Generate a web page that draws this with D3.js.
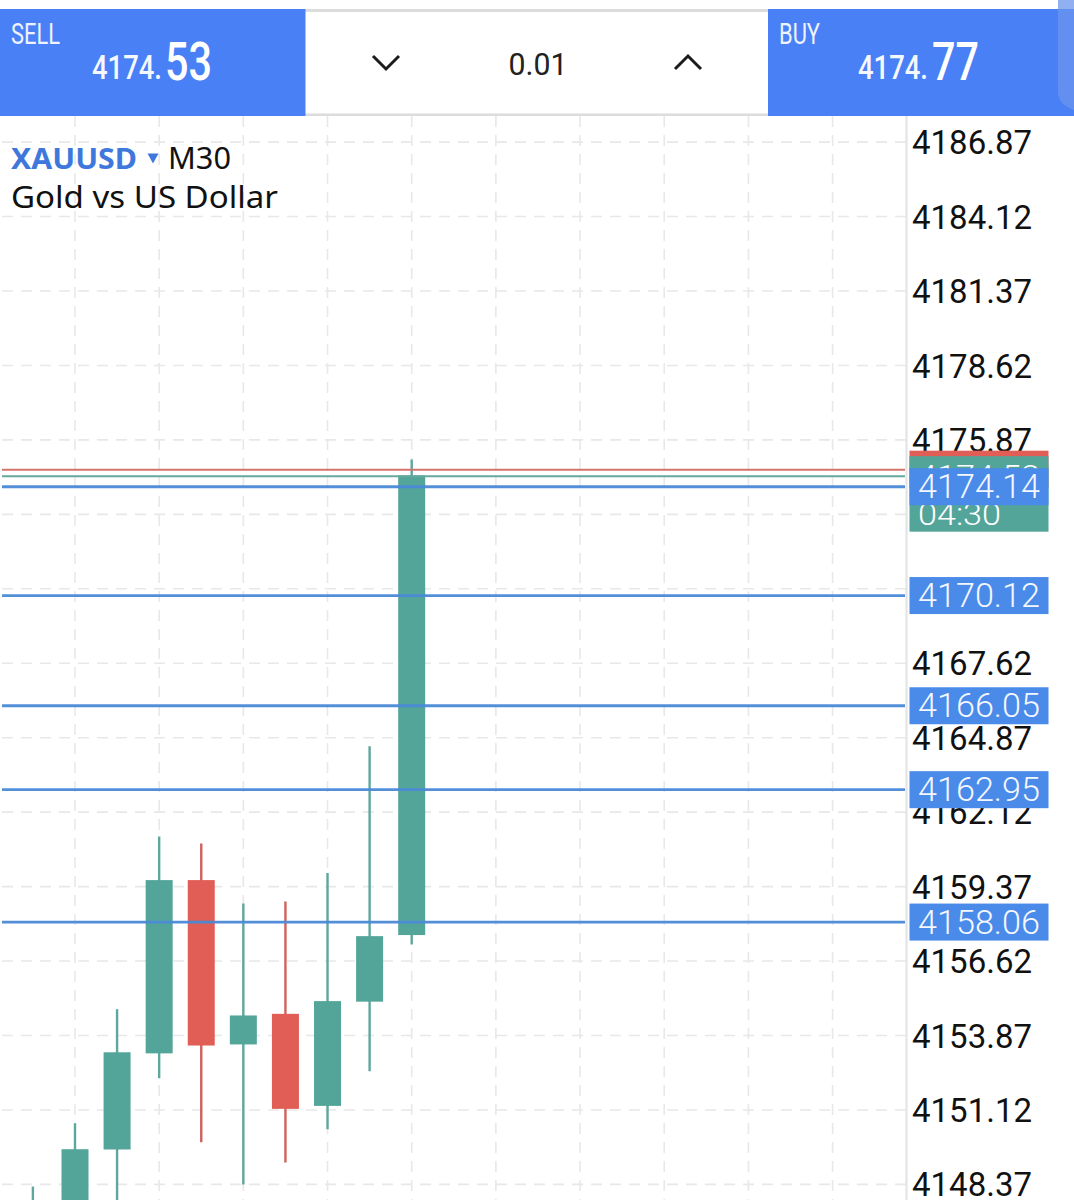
<!DOCTYPE html>
<html>
<head>
<meta charset="utf-8">
<script src="https://cdn.jsdelivr.net/npm/d3@7"></script>
<style>
  html, body { margin: 0; padding: 0; background: #fff; }
  svg { display: block; }
  text { font-family: Roboto, sans-serif; }
</style>
</head>
<body>
<div id="chart"></div>
<script>
// Candles, oldest first. The first ones run off the bottom edge
var candleIdx = [0, 1, 2, 3, 4, 5, 6, 7, 8, 9];
var opens  = [4146.9, 4146.5, 4149.66, 4153.21, 4159.61, 4153.54, 4154.67, 4151.27, 4155.12, 4157.58];
var closes = [4147.6, 4149.67, 4153.25, 4159.61, 4153.50, 4154.61, 4151.16, 4155.14, 4157.54, 4174.56];
var highs  = [4148.29, 4150.63, 4154.84, 4161.22, 4160.96, 4158.75, 4158.82, 4159.87, 4164.55, 4175.15];
var lows   = [4145.9, 4145.5, 4147.0, 4152.29, 4149.93, 4148.37, 4149.18, 4150.41, 4152.55, 4157.23];

// Price axis
var priceTicks = [4186.87, 4184.12, 4181.37, 4178.62, 4175.87, 4173.12, 4170.37, 4167.62, 4164.87, 4162.12, 4159.37, 4156.62, 4153.87, 4151.12, 4148.37];
var hiddenTicks = [4173.12, 4170.37];  // covered by the level boxes
var gridIdx = [1, 3, 5, 7, 9, 11, 13, 15, 17, 19];

// Horizontal levels
var levels = [4174.14, 4170.12, 4166.05, 4162.95, 4158.06];
var askPrice = 4174.77;
var bidPrice = 4174.53;
var countdown = "04:30";

var width = 1074, height = 1200;
var blue = "#4a80f5", levelBoxBlue = "#4a8ae8", levelBlue = "#4a8ad8", up = "#53a59a", down = "#e05e55";

var svg = d3.select("#chart").append("svg").attr("width", width).attr("height", height);

var y = d3.scaleLinear().domain([4148.37, 4186.87]).range([1184.4, 142.1]);
var x = d3.scaleLinear().domain([0, 9]).range([32.9, 411.7]);

// grid
svg.selectAll("line.hgrid").data(priceTicks).enter().append("line")
  .attr("class", "hgrid")
  .attr("x1", 2).attr("x2", 912)
  .attr("y1", d => y(d)).attr("y2", d => y(d))
  .attr("stroke", "#e8e8e8").attr("stroke-width", 1.6).attr("stroke-dasharray", "11 8");

svg.selectAll("line.vgrid").data(gridIdx).enter().append("line")
  .attr("class", "vgrid")
  .attr("x1", d => x(d)).attr("x2", d => x(d))
  .attr("y1", 116).attr("y2", height)
  .attr("stroke", "#e8e8e8").attr("stroke-width", 1.6).attr("stroke-dasharray", "11 8");

// axis border
svg.append("line").attr("x1", 906.5).attr("x2", 906.5).attr("y1", 116).attr("y2", height)
  .attr("stroke", "#e4e4e4").attr("stroke-width", 2.2);

// price tick labels
var axis = d3.axisRight(y)
  .tickValues(priceTicks.filter(d => !hiddenTicks.includes(d)))
  .tickSize(0).tickPadding(0)
  .tickFormat(d3.format(".2f"));
var axisG = svg.append("g").attr("transform", "translate(912,0)").call(axis);
axisG.select(".domain").remove();
axisG.selectAll("text")
  .attr("fill", "#111")
  .style("font-size", "33px")
  .style("font-family", "Roboto, sans-serif")
  .attr("dy", "0.35em");

// candles
var candles = candleIdx.map((d, i) => ({ i: d, o: opens[i], c: closes[i], h: highs[i], l: lows[i] }));

svg.selectAll("line.wick").data(candles).enter().append("line")
  .attr("class", "wick")
  .attr("x1", d => x(d.i)).attr("x2", d => x(d.i))
  .attr("y1", d => y(d.h)).attr("y2", d => y(d.l))
  .attr("stroke", d => d.c >= d.o ? "#5fa69c" : "#cf625b")
  .attr("stroke-width", 2.4);

svg.selectAll("rect.body").data(candles).enter().append("rect")
  .attr("class", "body")
  .attr("x", d => x(d.i) - 13.5).attr("width", 27)
  .attr("y", d => y(Math.max(d.o, d.c)))
  .attr("height", d => Math.abs(y(d.o) - y(d.c)))
  .attr("fill", d => d.c >= d.o ? up : down);

// bid / ask lines
svg.append("line").attr("x1", 2).attr("x2", 905).attr("y1", y(askPrice)).attr("y2", y(askPrice))
  .attr("stroke", "#d4736d").attr("stroke-width", 1.9);
svg.append("line").attr("x1", 2).attr("x2", 905).attr("y1", y(bidPrice)).attr("y2", y(bidPrice))
  .attr("stroke", "#64a89e").attr("stroke-width", 2);

// level lines
svg.selectAll("line.level").data(levels).enter().append("line")
  .attr("class", "level")
  .attr("x1", 2).attr("x2", 905)
  .attr("y1", d => y(d)).attr("y2", d => y(d))
  .attr("stroke", levelBlue).attr("stroke-width", 2.8).attr("opacity", 0.95);

// right side price boxes, stacked like the terminal draws them
var boxX = 909.5, boxW = 139;
svg.append("rect").attr("x", boxX).attr("y", y(askPrice) - 19).attr("width", boxW).attr("height", 37).attr("fill", down);
svg.append("rect").attr("x", boxX).attr("y", y(bidPrice) - 20).attr("width", boxW).attr("height", 75.5).attr("fill", up);
svg.append("text").attr("x", 918).attr("y", y(bidPrice) + 11)
  .attr("fill", "#fff").style("font-size", "31px").style("font-weight", 300)
  .attr("textLength", 122).attr("lengthAdjust", "spacingAndGlyphs").text(d3.format(".2f")(bidPrice));
svg.append("text").attr("x", 918).attr("y", y(bidPrice) + 49)
  .attr("fill", "#fff").style("font-size", "31px").style("font-weight", 300)
  .attr("textLength", 83).attr("lengthAdjust", "spacingAndGlyphs").text(countdown);

svg.selectAll("rect.levelBox").data(levels).enter().append("rect")
  .attr("class", "levelBox")
  .attr("x", boxX).attr("width", boxW)
  .attr("y", d => y(d) - 18.5).attr("height", 37)
  .attr("fill", levelBoxBlue);
svg.selectAll("text.levelText").data(levels).enter().append("text")
  .attr("class", "levelText")
  .attr("x", 918).attr("y", d => y(d) + 11.5)
  .attr("fill", "#f4f7ff").style("font-size", "33px").style("font-weight", 300)
  .attr("textLength", 122).attr("lengthAdjust", "spacingAndGlyphs")
  .text(d => d3.format(".2f")(d));

// symbol caption
var sans = "'Noto Sans', 'Open Sans', sans-serif";
svg.append("text").attr("x", 11).attr("y", 169)
  .attr("fill", "#3f78dc").style("font-family", sans).style("font-size", "29px").style("font-weight", 700)
  .attr("textLength", 126).attr("lengthAdjust", "spacingAndGlyphs").text("XAUUSD");
svg.append("path").attr("d", "M147.5 153.5 L158.5 153.5 L153 163.5 Z").attr("fill", "#3f78dc");
svg.append("text").attr("x", 168).attr("y", 169)
  .attr("fill", "#111").style("font-family", sans).style("font-size", "30px")
  .attr("textLength", 63).attr("lengthAdjust", "spacingAndGlyphs").text("M30");
svg.append("text").attr("x", 11).attr("y", 208)
  .attr("fill", "#111").style("font-family", sans).style("font-size", "31px")
  .attr("textLength", 267).attr("lengthAdjust", "spacingAndGlyphs").text("Gold vs US Dollar");

// order panel on top
svg.append("rect").attr("x", 0).attr("y", 0).attr("width", width).attr("height", 9).attr("fill", "#fff");
svg.append("rect").attr("x", 305).attr("y", 9).attr("width", 463).attr("height", 107).attr("fill", "#fff");
svg.append("rect").attr("x", 305).attr("y", 9).attr("width", 463).attr("height", 3).attr("fill", "#dcdcdc");
svg.append("rect").attr("x", 305).attr("y", 113.5).attr("width", 463).attr("height", 2.5).attr("fill", "#dcdcdc");
svg.append("rect").attr("x", 0).attr("y", 9).attr("width", 305.5).attr("height", 107).attr("fill", blue);
svg.append("rect").attr("x", 768).attr("y", 9).attr("width", 306).attr("height", 107).attr("fill", blue);
svg.append("path").attr("d", "M1058 0 H1074 V110 Q1058 104 1058 92 Z").attr("fill", "#6c96ee").attr("opacity", 0.75);

function priceButton(label, labelX, labelW, head, headX, tail, tailX, tailW) {
  svg.append("text").attr("x", labelX).attr("y", 44).attr("fill", "#eef3ff")
    .style("font-size", "29px")
    .attr("textLength", labelW).attr("lengthAdjust", "spacingAndGlyphs").text(label);
  svg.append("text").attr("x", headX).attr("y", 79).attr("fill", "#f6f8ff")
    .style("font-size", "34px").style("font-weight", 500)
    .attr("textLength", 70).attr("lengthAdjust", "spacingAndGlyphs").text(head);
  svg.append("text").attr("x", tailX).attr("y", 80).attr("fill", "#fff")
    .style("font-size", "54px").style("font-weight", 500)
    .attr("textLength", tailW).attr("lengthAdjust", "spacingAndGlyphs").text(tail);
}
priceButton("SELL", 11, 49, "4174.", 92, "53", 165, 47);
priceButton("BUY", 779, 41, "4174.", 858, "77", 932, 47);

svg.append("text").attr("x", 538).attr("y", 75).attr("text-anchor", "middle")
  .attr("fill", "#222").style("font-size", "31px").attr("textLength", 59).attr("lengthAdjust", "spacingAndGlyphs").text("0.01");
svg.append("path").attr("d", "M373 56 L386 69 L399 56").attr("fill", "none").attr("stroke", "#1c1c1c").attr("stroke-width", 3);
svg.append("path").attr("d", "M675 69 L688 56 L701 69").attr("fill", "none").attr("stroke", "#1c1c1c").attr("stroke-width", 3);
</script>
</body>
</html>
